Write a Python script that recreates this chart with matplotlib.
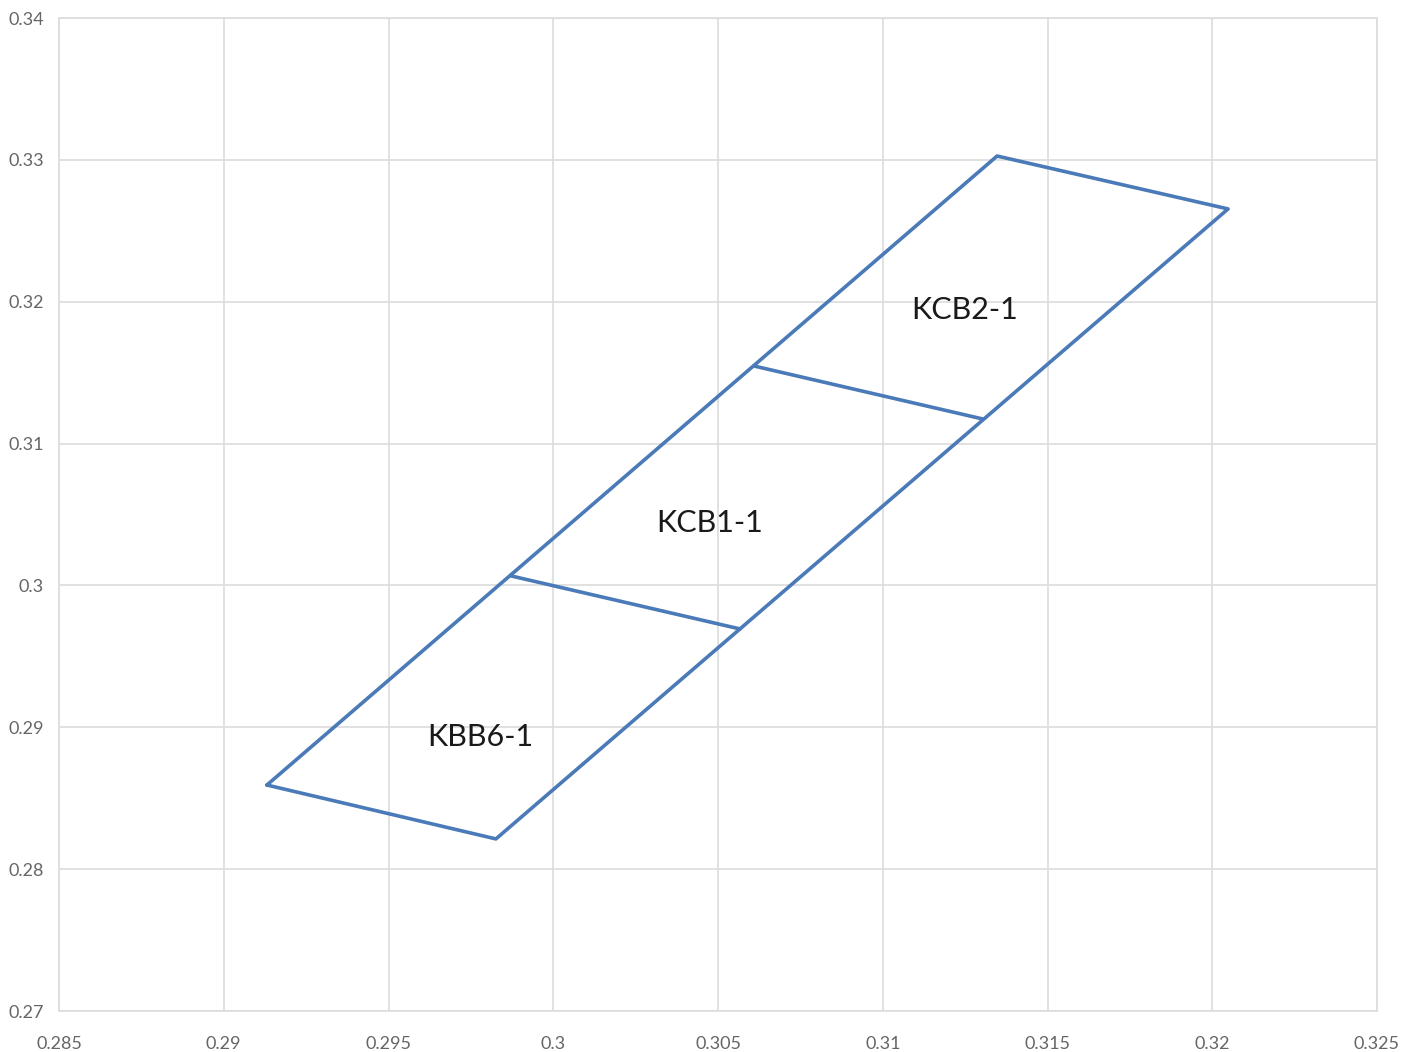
import matplotlib
matplotlib.use("Agg")
import matplotlib.pyplot as plt

# outline of the three stacked regions (closed polygon)
outline_x = [0.29131, 0.31347, 0.32048, 0.29826, 0.29131]
outline_y = [0.28593, 0.33027, 0.32654, 0.28213, 0.28593]

# divider between KBB6-1 and KCB1-1
div1_x = [0.29872, 0.30567]
div1_y = [0.30067, 0.29693]

# divider between KCB1-1 and KCB2-1
div2_x = [0.30609, 0.31304]
div2_y = [0.31547, 0.31173]

labels = ["KBB6-1", "KCB1-1", "KCB2-1"]
label_x = [0.29778, 0.30476, 0.31250]
label_y = [0.28932, 0.30440, 0.31942]

x_ticks = [0.285, 0.29, 0.295, 0.3, 0.305, 0.31, 0.315, 0.32, 0.325]
x_ticklabels = ["0.285", "0.29", "0.295", "0.3", "0.305", "0.31", "0.315", "0.32", "0.325"]
y_ticks = [0.27, 0.28, 0.29, 0.3, 0.31, 0.32, 0.33, 0.34]
y_ticklabels = ["0.27", "0.28", "0.29", "0.3", "0.31", "0.32", "0.33", "0.34"]

BLUE = "#4a7ab7"
GRID = "#dcdcdc"
FONT = ["Lato", "DejaVu Sans"]

fig = plt.figure(figsize=(14.17, 10.52), dpi=100)
ax = fig.add_axes([59 / 1417, 1 - 1011 / 1052, (1377 - 59) / 1417, (1011 - 18) / 1052])

for xs, ys in [(outline_x, outline_y), (div1_x, div1_y), (div2_x, div2_y)]:
    ax.plot(xs, ys, color=BLUE, lw=2.6, solid_joinstyle="round",
            solid_capstyle="round", zorder=3)

for t, x, y in zip(labels, label_x, label_y):
    ax.text(x, y, t, ha="center", va="center", fontsize=22,
            family=FONT, color="#1a1a1a", zorder=4)

ax.set_xlim(0.285, 0.325)
ax.set_ylim(0.27, 0.34)
ax.set_xticks(x_ticks)
ax.set_xticklabels(x_ticklabels)
ax.set_yticks(y_ticks)
ax.set_yticklabels(y_ticklabels)
ax.tick_params(length=0, labelsize=13, labelcolor="#666666")
ax.tick_params(axis="x", pad=18)
ax.tick_params(axis="y", pad=11)
for lab in ax.get_xticklabels() + ax.get_yticklabels():
    lab.set_family(FONT)
ax.grid(True, color=GRID, lw=1.2)
for s in ax.spines.values():
    s.set_color(GRID)
    s.set_linewidth(1.2)

fig.savefig("out.png", dpi=100, facecolor="white")
